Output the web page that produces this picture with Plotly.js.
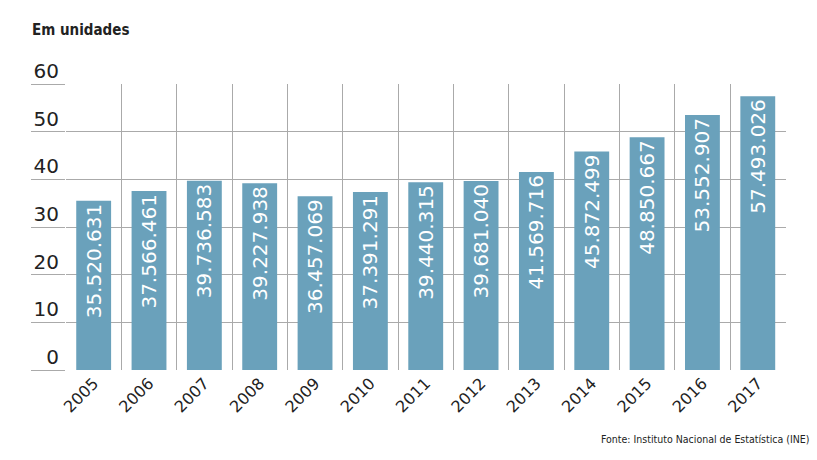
<!DOCTYPE html>
<html>
<head>
<meta charset="utf-8">
<script src="https://cdn.plot.ly/plotly-3.0.1.min.js"></script>
<style>html,body{margin:0;padding:0;background:#fff;}#chart{width:817px;height:460px;}</style>
</head>
<body>
<div id="chart"></div>
<script>
const years = [2005, 2006, 2007, 2008, 2009, 2010, 2011, 2012, 2013, 2014, 2015, 2016, 2017];
const values = [35520631, 37566461, 39736583, 39227938, 36457069, 37391291, 39440315, 39681040, 41569716, 45872499, 48850667, 53552907, 57493026];
const yTicks = [0, 10, 20, 30, 40, 50, 60];

const fmt = v => String(v).replace(/\B(?=(\d{3})+(?!\d))/g, '.');
const cellEdges = years.map(y => y - 0.5).concat([years[years.length - 1] + 0.5]);

const trace = {
  type: 'bar',
  x: years,
  y: values.map(v => v / 1e6),
  text: values.map(fmt),
  textposition: 'inside',
  insidetextanchor: 'end',
  textangle: -90,
  textfont: {family: 'DejaVu Sans', size: 20, color: '#ffffff'},
  marker: {color: '#6aa1bb'},
  hoverinfo: 'none',
  cliponaxis: false
};

const gridColor = '#aaaaaa';
const layout = {
  width: 817, height: 460,
  margin: {l: 66, r: 31, t: 84, b: 90},
  paper_bgcolor: '#ffffff', plot_bgcolor: '#ffffff',
  showlegend: false,
  bargap: 0.37,
  font: {family: 'DejaVu Sans', color: '#222222'},
  xaxis: {
    type: 'linear',
    range: [years[0] - 0.5, years[years.length - 1] + 0.51],
    tickvals: years,
    tickformat: 'd',
    tickangle: -45,
    tickfont: {size: 16, color: '#222222'},
    showgrid: false, zeroline: false, showline: false, ticks: '',
    minor: {tickvals: cellEdges, showgrid: true, gridcolor: gridColor, gridwidth: 1, ticks: ''}
  },
  yaxis: {
    range: [0, 60.05],
    tickvals: yTicks,
    showgrid: true, gridcolor: gridColor, gridwidth: 1,
    zeroline: false, showline: false,
    ticks: 'outside', ticklen: 34, tickcolor: gridColor, tickwidth: 1,
    ticklabelstandoff: -32, ticklabelshift: -13,
    tickfont: {size: 20, color: '#222222'}
  },
  annotations: [
    {text: '<b>Em unidades</b>', xref: 'paper', yref: 'paper', x: -0.05, y: 1.19, xanchor: 'left', yanchor: 'middle', showarrow: false,
     font: {family: 'DejaVu Sans Condensed', size: 15, color: '#222222'}},
    {text: 'Fonte: Instituto Nacional de Estatística (INE)', xref: 'paper', yref: 'paper', x: 1.036, y: -0.24, xanchor: 'right', yanchor: 'middle', showarrow: false,
     font: {family: 'DejaVu Sans Condensed', size: 10.5, color: '#222222'}}
  ]
};

Plotly.newPlot('chart', [trace], layout, {displayModeBar: false, staticPlot: true});
</script>
</body>
</html>
